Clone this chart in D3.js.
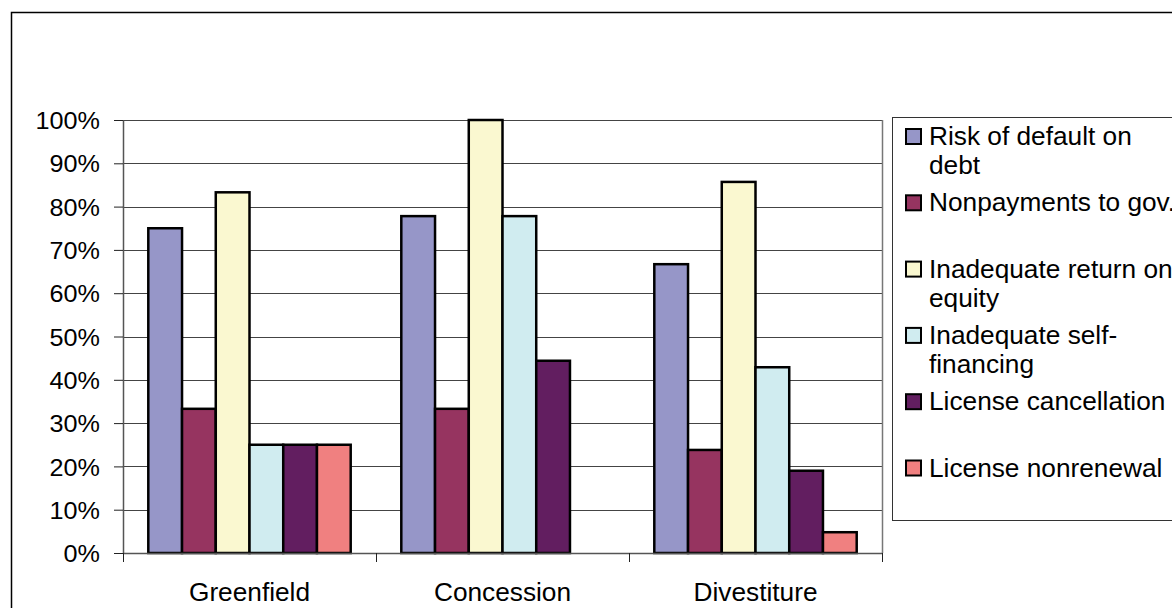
<!DOCTYPE html>
<html>
<head>
<meta charset="utf-8">
<script src="https://cdn.jsdelivr.net/npm/d3@7"></script>
<style>
  body { margin: 0; background: #fff; }
  svg { display: block; font-family: "Liberation Sans", Arial, sans-serif; }
</style>
</head>
<body>
<div id="chart"></div>
<script>
// data (shares of projects)
var categories = ["Greenfield", "Concession", "Divestiture"];
var seriesNames = ["Risk of default on\ndebt", "Nonpayments to gov.", "Inadequate return on\nequity",
                   "Inadequate self-\nfinancing", "License cancellation", "License nonrenewal"];
var riskDefault   = [0.75, 0.778, 0.667];
var nonpayments   = [0.333, 0.333, 0.238];
var returnEquity  = [0.833, 1.00, 0.857];
var selfFinancing = [0.25, 0.778, 0.429];
var cancellation  = [0.25, 0.444, 0.19];
var nonrenewal    = [0.25, 0, 0.048];
var yTicks = [0, 0.1, 0.2, 0.3, 0.4, 0.5, 0.6, 0.7, 0.8, 0.9, 1.0];
var colors = ["#9696c8", "#963460", "#faf8d0", "#d0ecf0", "#621e60", "#f08080"];

var seriesValues = [riskDefault, nonpayments, returnEquity, selfFinancing, cancellation, nonrenewal];

var W = 1172, H = 608,
    plot = {left: 123, right: 882, top: 120, bottom: 553},
    sx = 1.05; // text is a bit wide in the picture

var svg = d3.select("#chart").append("svg")
  .attr("width", W).attr("height", H);

// outer chart frame
svg.append("rect")
  .attr("x", 11.5).attr("y", 12.5)
  .attr("width", 1300).attr("height", 700)
  .attr("fill", "none").attr("stroke", "#000").attr("stroke-width", 1.5);

var x0 = d3.scaleBand().domain(categories).range([plot.left, plot.right]);
var x1 = d3.scaleBand().domain(d3.range(seriesNames.length))
  .range([0, x0.bandwidth()]).paddingInner(0).paddingOuter(0.75);
var y = d3.scaleLinear().domain([0, 1]).range([plot.bottom, plot.top]);

// gridlines
svg.append("g")
  .selectAll("line").data(yTicks.slice(1)).join("line")
  .attr("x1", plot.left).attr("x2", plot.right)
  .attr("y1", function(d) { return Math.round(y(d)) + 0.5; })
  .attr("y2", function(d) { return Math.round(y(d)) + 0.5; })
  .attr("stroke", "#444").attr("stroke-width", 1);

// right side of plot area
svg.append("line")
  .attr("x1", plot.right + 0.5).attr("x2", plot.right + 0.5)
  .attr("y1", plot.top).attr("y2", plot.bottom)
  .attr("stroke", "#777").attr("stroke-width", 1.5);

// bars
var groups = svg.append("g").selectAll("g").data(categories).join("g")
  .attr("transform", function(d) { return "translate(" + x0(d) + ",0)"; });

groups.selectAll("rect")
  .data(function(c, ci) {
    return seriesValues.map(function(vals, si) { return {si: si, v: vals[ci]}; })
      .filter(function(d) { return d.v > 0; });
  })
  .join("rect")
  .attr("x", function(d) { return x1(d.si); })
  .attr("y", function(d) { return y(d.v); })
  .attr("width", x1.bandwidth())
  .attr("height", function(d) { return y(0) - y(d.v); })
  .attr("fill", function(d) { return colors[d.si]; })
  .attr("stroke", "#000").attr("stroke-width", 2.5);

// y axis
var yAxis = d3.axisLeft(y).tickValues(yTicks).tickSize(9).tickSizeOuter(0)
  .tickFormat(d3.format(".0%"));
var gy = svg.append("g")
  .attr("transform", "translate(" + plot.left + ",0)")
  .call(yAxis);
gy.select(".domain").attr("stroke", "#555").attr("stroke-width", 1.5);
gy.selectAll(".tick line").attr("stroke", "#222");
gy.selectAll("text")
  .attr("x", -23 / sx)
  .attr("dy", "0.36em")
  .attr("transform", "scale(" + sx + ",1)")
  .attr("font-size", 24).attr("fill", "#000")
  .attr("font-family", "Liberation Sans, Arial, sans-serif");

// x axis: baseline + ticks on category boundaries
var gx = svg.append("g");
gx.append("line")
  .attr("x1", plot.left).attr("x2", plot.right)
  .attr("y1", plot.bottom + 0.5).attr("y2", plot.bottom + 0.5)
  .attr("stroke", "#555").attr("stroke-width", 1.5);
var bounds = categories.map(function(c) { return x0(c); }).concat([plot.right]);
gx.selectAll("line.tk").data(bounds).join("line").attr("class", "tk")
  .attr("x1", function(d) { return d + 0.5; }).attr("x2", function(d) { return d + 0.5; })
  .attr("y1", plot.bottom).attr("y2", plot.bottom + 9)
  .attr("stroke", "#222");
gx.selectAll("g.lab").data(categories).join("g").attr("class", "lab")
  .attr("transform", function(d) { return "translate(" + (x0(d) + x0.bandwidth() / 2) + ",601) scale(" + sx + ",1)"; })
  .append("text")
  .attr("text-anchor", "middle")
  .attr("font-size", 25)
  .text(function(d) { return d; });

// legend
var lg = {left: 892, top: 117, bottom: 520, slot: 66.3, firstBase: 145, lineH: 29.5};
svg.append("rect")
  .attr("x", lg.left + 0.5).attr("y", lg.top + 0.5)
  .attr("width", 400).attr("height", lg.bottom - lg.top)
  .attr("fill", "#fff").attr("stroke", "#333").attr("stroke-width", 1);

var items = svg.append("g").selectAll("g").data(seriesNames).join("g")
  .attr("transform", function(d, i) { return "translate(0," + (lg.firstBase + i * lg.slot) + ")"; });
items.append("rect")
  .attr("x", 906).attr("y", -16)
  .attr("width", 15).attr("height", 15)
  .attr("fill", function(d, i) { return colors[i]; })
  .attr("stroke", "#000").attr("stroke-width", 2);
items.append("g")
  .attr("transform", "translate(929,0) scale(" + sx + ",1)")
  .selectAll("text")
  .data(function(d) { return d.split("\n"); })
  .join("text")
  .attr("x", 0)
  .attr("y", function(d, i) { return i * lg.lineH; })
  .attr("font-size", 25)
  .text(function(d) { return d; });
</script>
</body>
</html>
